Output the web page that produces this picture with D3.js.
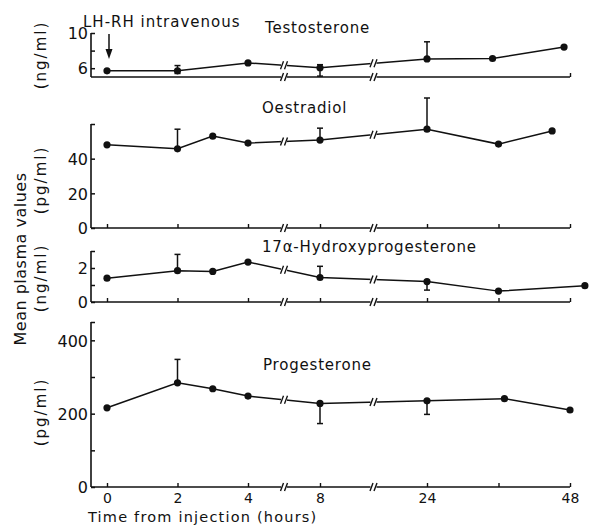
<!DOCTYPE html>
<html>
<head>
<meta charset="utf-8">
<script src="https://cdn.jsdelivr.net/npm/d3@7"></script>
<style>
  body { margin: 0; background: #fff; }
  text { font-family: "DejaVu Sans", sans-serif; fill: #111; }
</style>
</head>
<body>
<div id="chart"></div>
<script>
// x axis: hours, with breaks between 4-8 and 8-24
var xTickValues = [0, 2, 4, 8, 24, 36, 48];
var xTickLabels = {0: "0", 2: "2", 4: "4", 8: "8", 24: "24", 48: "48"};
var breakHours = [6, 16];

// Testosterone (ng/ml)
var testoTimes = [0, 2, 4, 8, 24, 35, 47];
var testoMean  = [5.7, 5.7, 6.6, 6.05, 7.05, 7.1, 8.4];
var testoUp    = [null, 6.3, null, 6.4, 9.0, null, null];
var testoLow   = [null, 5.4, null, 5.1, null, null, null];

// Oestradiol (pg/ml)
var oesTimes = [0, 2, 3, 4, 8, 24, 36, 45];
var oesMean  = [48, 45.7, 53, 49, 50.7, 57, 48.4, 56];
var oesUp    = [null, 57, null, null, 57.6, 75, null, null];
var oesLow   = [null, null, null, null, null, null, null, null];

// 17a-Hydroxyprogesterone (ng/ml)
var ohpTimes = [0, 2, 3, 4, 8, 24, 36, 50.5];
var ohpMean  = [1.4, 1.84, 1.8, 2.35, 1.44, 1.2, 0.64, 0.96];
var ohpUp    = [null, 2.8, null, null, 2.1, null, null, null];
var ohpLow   = [null, null, null, null, null, 0.7, null, null];

// Progesterone (pg/ml)
var progTimes = [0, 2, 3, 4, 8, 24, 37, 48];
var progMean  = [216, 284, 268, 248, 228, 235, 241, 210];
var progUp    = [null, 348, null, null, null, null, null, null];
var progLow   = [null, null, null, null, 173, 198, null, null];

var panels = [
  {title: "Testosterone", unit: "(ng/ml)", domain: [5, 10], range: [77, 33], ticks: [6, 8, 10], labels: [6, 10],
   xticks: false, titleX: 265, titleY: 33, unitY: 55,
   times: testoTimes, mean: testoMean, up: testoUp, low: testoLow},
  {title: "Oestradiol", unit: "(pg/ml)", domain: [0, 60], range: [228, 124], ticks: [0, 20, 40, 60], labels: [0, 20, 40],
   xticks: true, titleX: 262, titleY: 113, unitY: 180,
   times: oesTimes, mean: oesMean, up: oesUp, low: oesLow},
  {title: "17\u03b1-Hydroxyprogesterone", unit: "(ng/ml)", domain: [0, 3], range: [302, 251], ticks: [0, 1, 2, 3], labels: [0, 2],
   xticks: true, titleX: 262, titleY: 252, unitY: 278,
   times: ohpTimes, mean: ohpMean, up: ohpUp, low: ohpLow},
  {title: "Progesterone", unit: "(pg/ml)", domain: [0, 450], range: [487, 322], ticks: [0, 100, 200, 300, 400, 450], labels: [0, 200, 400],
   xticks: true, titleX: 263, titleY: 370, unitY: 412,
   times: progTimes, mean: progMean, up: progUp, low: progLow}
];

var width = 591, height = 525, axisX = 91, axisEnd = 570;

var svg = d3.select("#chart").append("svg")
    .attr("width", width)
    .attr("height", height);

var x = d3.scaleLinear()
    .domain([0, 4, 8, 24, 48])
    .range([107, 248, 320, 427, 570]);

function breakMark(g, bx, by) {
  g.append("rect").attr("x", bx - 3).attr("y", by - 4).attr("width", 6).attr("height", 8).attr("fill", "#fff");
  [-2, 2].forEach(function(dx) {
    g.append("line")
      .attr("x1", bx + dx - 1.5).attr("y1", by + 4)
      .attr("x2", bx + dx + 1.5).attr("y2", by - 4)
      .attr("stroke", "#111").attr("stroke-width", 1.4);
  });
}

panels.forEach(function(p, pi) {
  var y = d3.scaleLinear().domain(p.domain).range(p.range);
  var g = svg.append("g");
  var base = p.range[0];

  // y axis
  var yAxis = d3.axisLeft(y)
      .tickValues(p.ticks)
      .tickSize(-4)
      .tickPadding(3)
      .tickFormat(function(d) { return p.labels.indexOf(d) >= 0 ? d : ""; });
  var ya = g.append("g").attr("transform", "translate(" + axisX + ",0)").call(yAxis);
  ya.select(".domain").remove();
  ya.selectAll("line").attr("stroke", "#111").attr("stroke-width", 1.5);
  ya.selectAll("text").style("font-size", "16px").style("font-family", "DejaVu Sans").attr("dy", "0.36em");
  g.append("line")
    .attr("x1", axisX).attr("x2", axisX)
    .attr("y1", p.range[1]).attr("y2", base)
    .attr("stroke", "#111").attr("stroke-width", 1.6);

  // x axis
  var xAxis = d3.axisBottom(x)
      .tickValues(p.xticks ? xTickValues : [48])
      .tickSize(-4)
      .tickPadding(6)
      .tickFormat(function(d) { return pi === panels.length - 1 && xTickLabels[d] ? xTickLabels[d] : ""; });
  var xa = g.append("g").attr("transform", "translate(0," + base + ")").call(xAxis);
  xa.select(".domain").remove();
  xa.selectAll("line").attr("stroke", "#111").attr("stroke-width", 1.4);
  xa.selectAll("text").style("font-size", "14px").style("font-family", "DejaVu Sans").attr("dy", "0.68em");
  g.append("line")
    .attr("x1", axisX).attr("x2", axisEnd)
    .attr("y1", base).attr("y2", base)
    .attr("stroke", "#111").attr("stroke-width", 1.6);

  // data line
  var pts = p.times.map(function(t, i) { return [x(t), y(p.mean[i])]; });
  g.append("path")
    .attr("d", d3.line()(pts))
    .attr("fill", "none").attr("stroke", "#111").attr("stroke-width", 1.5);

  // error bars
  p.times.forEach(function(t, i) {
    [p.up[i], p.low[i]].forEach(function(v) {
      if (v == null) return;
      g.append("line")
        .attr("x1", x(t)).attr("x2", x(t))
        .attr("y1", y(p.mean[i])).attr("y2", y(v))
        .attr("stroke", "#111").attr("stroke-width", 1.5);
      g.append("line")
        .attr("x1", x(t) - 3).attr("x2", x(t) + 3)
        .attr("y1", y(v)).attr("y2", y(v))
        .attr("stroke", "#111").attr("stroke-width", 1.5);
    });
  });

  // breaks on data line and baseline
  breakHours.forEach(function(h) {
    var bx = x(h);
    var i = d3.bisectLeft(p.times, h);
    var x0 = pts[i - 1][0], y0 = pts[i - 1][1], x1 = pts[i][0], y1 = pts[i][1];
    var by = y0 + (y1 - y0) * (bx - x0) / (x1 - x0);
    breakMark(g, bx, by);
    breakMark(g, bx, base);
  });

  // points
  g.selectAll("circle.pt")
    .data(pts)
    .enter().append("circle")
      .attr("class", "pt")
      .attr("cx", function(d) { return d[0]; })
      .attr("cy", function(d) { return d[1]; })
      .attr("r", 3.6)
      .attr("fill", "#111");

  // titles
  g.append("text")
    .attr("x", p.titleX).attr("y", p.titleY)
    .style("font-size", "15px")
    .style("letter-spacing", "0.8px")
    .text(p.title);

  g.append("text")
    .attr("transform", "translate(46," + p.unitY + ") rotate(-90)")
    .attr("text-anchor", "middle")
    .style("font-size", "15px")
    .style("letter-spacing", "2px")
    .text(p.unit);
});

// injection annotation
svg.append("text")
  .attr("x", 83).attr("y", 27)
  .style("font-size", "15px")
  .style("letter-spacing", "1px")
  .text("LH-RH intravenous");
svg.append("line")
  .attr("x1", 109).attr("x2", 109).attr("y1", 34).attr("y2", 50)
  .attr("stroke", "#111").attr("stroke-width", 1.5);
svg.append("path")
  .attr("d", "M105.5,49 L112.5,49 L109,59 Z")
  .attr("fill", "#111");

svg.append("text")
  .attr("transform", "translate(26,259) rotate(-90)")
  .attr("text-anchor", "middle")
  .style("font-size", "16px")
  .style("letter-spacing", "0.5px")
  .text("Mean plasma values");

svg.append("text")
  .attr("x", 88).attr("y", 522)
  .style("font-size", "14.5px")
  .style("letter-spacing", "1.2px")
  .text("Time from injection (hours)");
</script>
</body>
</html>
